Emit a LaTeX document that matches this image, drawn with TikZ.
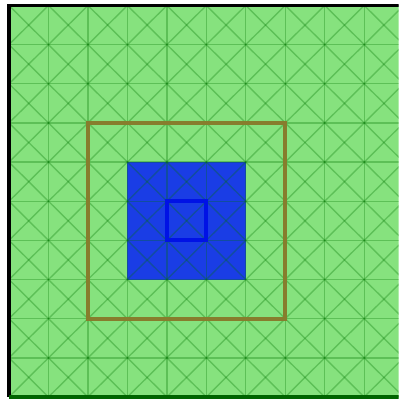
\documentclass[tikz,border=0pt]{standalone}
\usepackage{xcolor}
\definecolor{fieldgreen}{RGB}{134,226,126}
\definecolor{meshgreen}{RGB}{0,115,0}
\definecolor{regionblue}{RGB}{0,20,255}
\definecolor{boxolive}{RGB}{135,125,45}
\definecolor{edgegreen}{RGB}{0,100,0}

\begin{document}
\begin{tikzpicture}[x=1cm,y=0.992cm,
		meshline/.style = {draw=meshgreen, opacity=0.3, line width=1pt},
		wall/.style = {line width=2.4pt},
	]
	\clip (-0.228,-0.077) rectangle (9.873,10.14);
	\fill[white] (-0.228,-0.077) rectangle (9.873,10.14);
	\fill[fieldgreen] (0,0) rectangle (10,10);
	\fill[regionblue, opacity=0.8] (3,3) rectangle (6,6);
	% mesh
	\foreach \k in {0,...,10}
	{
		\draw[meshline] (\k,0) -- (\k,10);
		\draw[meshline] (0,\k) -- (10,\k);
	};
	\foreach \i in {0,...,9}
	{
		\foreach \j in {0,...,9}
		{
			\draw[meshline] (\i,\j) -- ++(1,1);
			\draw[meshline] (\i+1,\j) -- ++(-1,1);
		};
	};
	\draw[boxolive, line width=2.9pt] (2,2) rectangle (7,7);
	\draw[regionblue!90!black, line width=2.9pt] (4,4) rectangle (5,5);
	% boundary
	\draw[wall, black] (0,0) -- (0,10) -- (10,10);
	\draw[wall, edgegreen] (0,0) -- (10,0);
\end{tikzpicture}
\end{document}
